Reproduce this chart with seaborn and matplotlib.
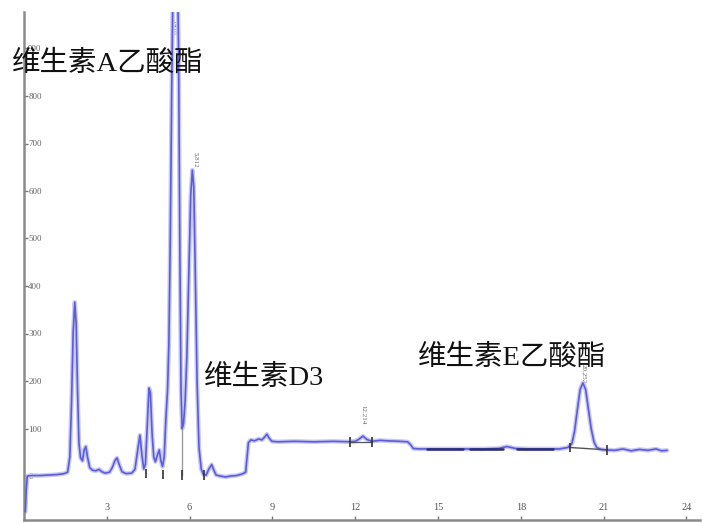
import matplotlib
matplotlib.use("Agg")
import matplotlib.pyplot as plt
import seaborn as sns
import pandas as pd

# ---- data ----
time_min = [0.05, 0.08, 0.12, 0.3, 0.6, 0.9, 1.2, 1.45, 1.58, 1.66, 1.72, 1.78, 1.84, 1.89, 1.94,
            1.99, 2.05, 2.12, 2.18, 2.24, 2.3, 2.38, 2.48, 2.6, 2.72, 2.82, 2.95, 3.1, 3.2, 3.3,
            3.37, 3.45, 3.55, 3.7, 3.9, 4.02, 4.12, 4.2, 4.27, 4.34, 4.4, 4.47, 4.53, 4.58, 4.64,
            4.7, 4.76, 4.84, 4.9, 4.96, 5.02, 5.08, 5.14, 5.2, 5.25, 5.3, 5.35, 5.4, 5.47, 5.54,
            5.6, 5.65, 5.69, 5.73, 5.78, 5.84, 5.9, 5.97, 6.04, 6.1, 6.15, 6.2, 6.27, 6.34, 6.42,
            6.5, 6.6, 6.7, 6.8, 6.88, 6.96, 7.1, 7.3, 7.5, 7.7, 7.9, 8.03, 8.08, 8.13, 8.22,
            8.35, 8.5, 8.62, 8.72, 8.8, 8.88, 8.98, 9.2, 9.8, 10.5, 11.2, 11.8, 12.0, 12.15, 12.28,
            12.42, 12.6, 12.9, 13.2, 13.6, 13.9, 14.02, 14.1, 14.3, 15.0, 15.8, 16.6, 17.2, 17.5,
            17.8, 18.3, 19.0, 19.4, 19.7, 19.85, 19.95, 20.05, 20.15, 20.25, 20.35, 20.45, 20.55,
            20.65, 20.75, 20.9, 21.1, 21.4, 21.7, 22.0, 22.3, 22.6, 22.9, 23.1, 23.3]
signal = [-75, -30, 0, 1, 1, 2, 3, 5, 8, 40, 150, 300, 366, 320, 180,
          70, 38, 32, 55, 62, 40, 18, 12, 11, 14, 9, 6, 8, 18, 33,
          38, 24, 9, 5, 6, 14, 55, 86, 45, 15, 25, 110, 185, 175, 90,
          40, 30, 45, 55, 32, 20, 40, 120, 180, 280, 500, 800, 1050, 1200, 1150,
          900, 450, 180, 100, 110, 160, 250, 420, 590, 644, 610, 450, 200, 60, 15,
          3, 2, 15, 24, 12, 2, 0, -2, 0, 1, 4, 8, 40, 70, 76,
          74, 78, 76, 82, 88, 80, 73, 72, 73, 72, 73, 72, 73, 78, 84,
          77, 73, 75, 74, 73, 72, 65, 58, 57, 57, 57, 57, 58, 62,
          58, 57, 57, 57, 60, 68, 95, 140, 182, 196, 182, 140, 100,
          72, 60, 56, 55, 54, 57, 53, 56, 54, 57, 53, 54]

# integration markers
marker_t = [4.42, 5.04, 5.72, 6.52, 11.82, 12.6, 19.78, 21.12]
marker_v = [5, 3, 2, 2, 72, 72, 60, 55]
# integration baseline overlay (15-19 min)
overlay_start = [14.6, 16.15, 17.85]
overlay_end = [15.9, 17.35, 19.15]
overlay_v = 57

# retention-time labels
rt_labels = ["5.418", "5.812", "12.214", "20.252"]
rt_t = [5.43, 6.2, 12.28, 20.25]
rt_v = [945, 665, 130, 215]

# compound annotations
names = ["维生素A乙酸酯", "维生素D3", "维生素E乙酸酯"]
name_t = [-0.435, 6.52, 14.28]
name_v = [868, 206, 250]

x_ticks = [3, 6, 9, 12, 15, 18, 21, 24]
y_ticks = [0, 100, 200, 300, 400, 500, 600, 700, 800, 900]

# ---- drawing ----
sns.set_theme(style="white")
plt.rcParams["font.family"] = ["Liberation Serif", "Noto Sans CJK SC", "DejaVu Sans"]

fig = plt.figure(figsize=(7.03, 5.23), dpi=100)
ax = fig.add_axes([24 / 703, 3 / 523, 676 / 703, 508 / 523])

df = pd.DataFrame({"t": time_min, "v": signal})
sns.lineplot(data=df, x="t", y="v", ax=ax, color="#c9c9f2", linewidth=3.2,
             estimator=None, sort=False, zorder=2)
sns.lineplot(data=df, x="t", y="v", ax=ax, color="#5a5cdc", linewidth=1.2,
             estimator=None, sort=False, zorder=3)

# integration details
for s, e in zip(overlay_start, overlay_end):
    ax.plot([s, e], [overlay_v, overlay_v], color="#2b2d6e", lw=1.8, zorder=4)
ax.plot([marker_t[2], marker_t[2]], [marker_v[2], 100], color="#9a9a9a", lw=1.0, zorder=4)
ax.plot([marker_t[4], marker_t[5]], [marker_v[4], marker_v[5]], color="#555555", lw=0.9, zorder=4)
ax.plot([marker_t[6], marker_t[7]], [marker_v[6], marker_v[7]], color="#555555", lw=1.0, zorder=4)
ax.vlines(marker_t, [m - 10 for m in marker_v], [m + 10 for m in marker_v],
          color="#333333", lw=1.2, zorder=5)

for s, t, v in zip(rt_labels, rt_t, rt_v):
    ax.text(t, v, s, rotation=270, fontsize=5, color="#666666", ha="center", va="center",
            zorder=1)

for s, t, v in zip(names, name_t, name_v):
    ax.text(t, v, s, fontsize=20.5, color="#111111", ha="left", va="center",
            clip_on=False, zorder=6)

ax.set_xlim(0, 676 / 27.6)
ax.set_ylim((476 - 520) / 0.475, (476 - 12) / 0.475)
ax.set_xticks(x_ticks)
ax.set_yticks(y_ticks)
ax.set_xticklabels([str(x) for x in x_ticks])
ax.set_yticklabels([str(y) for y in y_ticks])
ax.set_xlabel("")
ax.set_ylabel("")

for side in ["top", "right"]:
    ax.spines[side].set_visible(False)
for side in ["left", "bottom"]:
    ax.spines[side].set_color("#8a8a8a")
    ax.spines[side].set_linewidth(1.8)

ax.tick_params(axis="x", direction="in", length=3, width=1, color="#777777",
               pad=-12.5, labelsize=7.5, labelcolor="#555555", bottom=True)
ax.tick_params(axis="y", direction="in", length=3, width=1, color="#777777",
               pad=-3.0, labelsize=6.5, labelcolor="#666666", left=True)
plt.setp(ax.get_yticklabels(), ha="left")

fig.savefig("out.png", dpi=100)
